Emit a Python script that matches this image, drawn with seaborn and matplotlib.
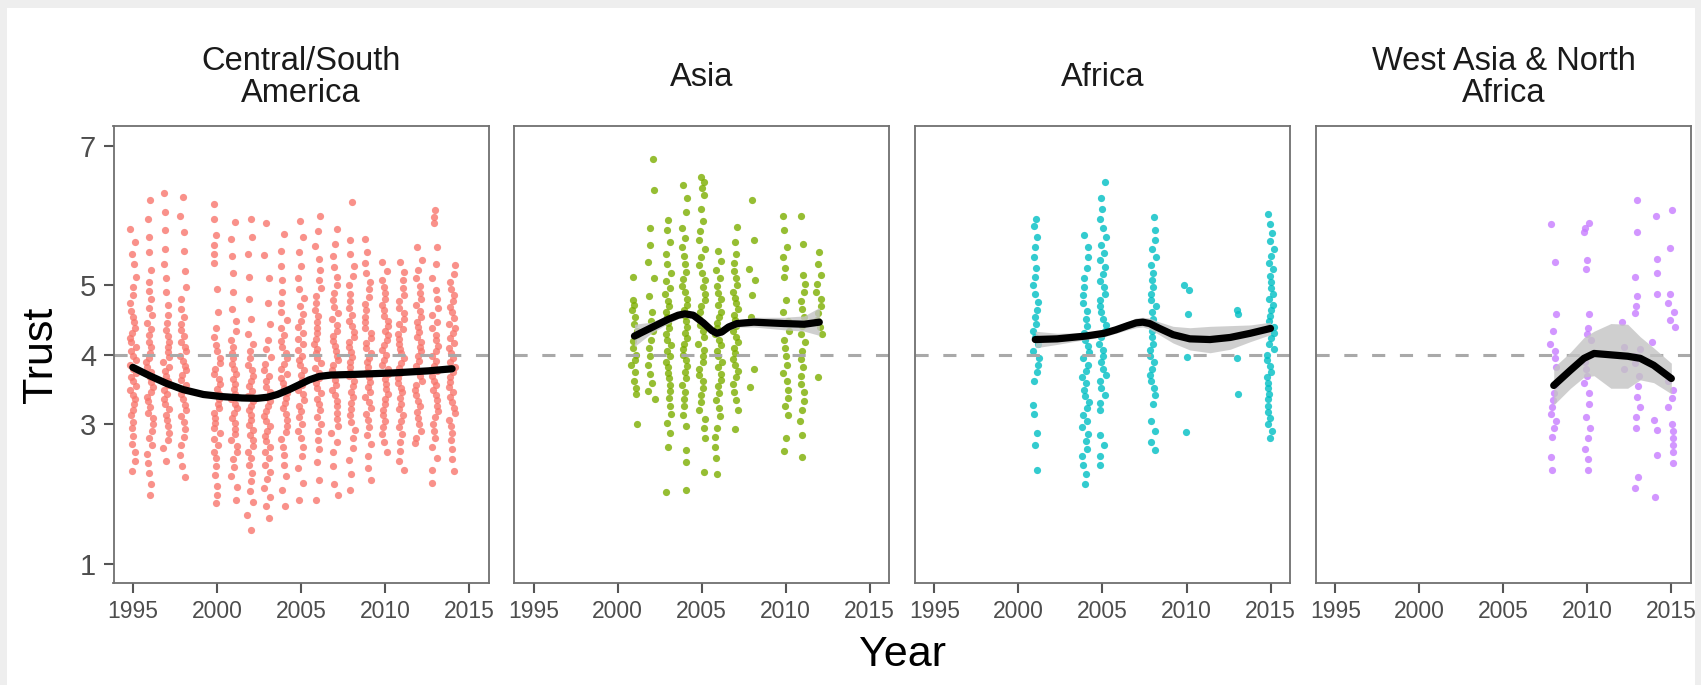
import numpy as np
import pandas as pd
import seaborn as sns
import matplotlib.pyplot as plt
from matplotlib.patches import Rectangle

# Trust scores per survey year
csa_trust = {
    1995: [5.81, 5.62, 5.45, 5.30, 5.12, 4.98, 4.86, 4.74, 4.63, 4.55, 4.47, 4.39, 4.31, 4.24, 4.18, 4.11, 4.05, 3.98, 3.92, 3.86,
           3.80, 3.74, 3.68, 3.62, 3.55, 3.49, 3.42, 3.36, 3.29, 3.21, 3.13, 3.04, 2.95, 2.84, 2.72, 2.60, 2.47, 2.33],
    1996: [6.22, 5.95, 5.70, 5.48, 5.22, 5.05, 4.92, 4.80, 4.68, 4.57, 4.46, 4.37, 4.28, 4.19, 4.11, 4.03, 3.96, 3.89, 3.82, 3.75,
           3.68, 3.61, 3.54, 3.47, 3.40, 3.33, 3.25, 3.17, 3.09, 3.00, 2.91, 2.81, 2.70, 2.58, 2.45, 2.30, 2.14, 1.99],
    1997: [6.32, 6.05, 5.80, 5.52, 5.30, 5.10, 4.90, 4.72, 4.58, 4.46, 4.36, 4.27, 4.19, 4.11, 4.04, 3.97, 3.90, 3.83, 3.77, 3.70,
           3.63, 3.57, 3.50, 3.43, 3.36, 3.29, 3.22, 3.14, 3.06, 2.97, 2.88, 2.78, 2.66, 2.47],
    1998: [6.27, 6.00, 5.76, 5.50, 5.21, 4.98, 4.80, 4.66, 4.55, 4.45, 4.36, 4.27, 4.19, 4.12, 4.05, 3.98, 3.91, 3.84, 3.78, 3.71,
           3.64, 3.57, 3.50, 3.43, 3.36, 3.28, 3.20, 3.12, 3.03, 2.93, 2.82, 2.70, 2.56, 2.40, 2.25],
    2000: [6.17, 5.95, 5.72, 5.58, 5.45, 5.32, 4.95, 4.62, 4.38, 4.25, 4.14, 4.05, 3.96, 3.88, 3.80, 3.72, 3.65, 3.58, 3.51, 3.44,
           3.37, 3.30, 3.23, 3.16, 3.09, 3.02, 2.95, 2.87, 2.79, 2.70, 2.61, 2.51, 2.40, 2.27, 2.12, 1.98, 1.87],
    2001: [5.91, 5.66, 5.42, 5.18, 4.90, 4.66, 4.48, 4.34, 4.22, 4.12, 4.03, 3.95, 3.87, 3.79, 3.72, 3.65, 3.58, 3.51, 3.44, 3.37,
           3.30, 3.23, 3.16, 3.09, 3.02, 2.94, 2.86, 2.78, 2.69, 2.60, 2.50, 2.39, 2.26, 2.10, 1.92],
    2002: [5.96, 5.70, 5.45, 5.12, 4.80, 4.52, 4.30, 4.16, 4.05, 3.95, 3.86, 3.78, 3.70, 3.62, 3.55, 3.48, 3.41, 3.34, 3.27, 3.20,
           3.13, 3.06, 2.99, 2.92, 2.85, 2.77, 2.69, 2.60, 2.51, 2.41, 2.30, 2.18, 2.04, 1.88, 1.70, 1.48],
    2003: [5.90, 5.43, 5.10, 4.75, 4.45, 4.22, 4.08, 3.97, 3.87, 3.78, 3.70, 3.62, 3.54, 3.47, 3.40, 3.33, 3.26, 3.19, 3.12, 3.05,
           2.98, 2.91, 2.84, 2.76, 2.68, 2.60, 2.51, 2.42, 2.32, 2.21, 2.09, 1.96, 1.82, 1.65],
    2004: [5.74, 5.50, 5.28, 5.08, 4.90, 4.75, 4.62, 4.50, 4.39, 4.29, 4.20, 4.11, 4.03, 3.95, 3.87, 3.80, 3.73, 3.66, 3.59, 3.52,
           3.45, 3.38, 3.31, 3.23, 3.15, 3.07, 2.98, 2.89, 2.79, 2.68, 2.56, 2.42, 2.26, 2.05, 1.82],
    2005: [5.93, 5.70, 5.48, 5.28, 5.10, 4.95, 4.82, 4.70, 4.59, 4.49, 4.40, 4.31, 4.23, 4.15, 4.07, 3.99, 3.92, 3.85, 3.78, 3.71,
           3.64, 3.57, 3.50, 3.43, 3.35, 3.27, 3.19, 3.10, 3.01, 2.91, 2.80, 2.68, 2.54, 2.38, 2.16, 1.92],
    2006: [6.00, 5.78, 5.56, 5.38, 5.22, 5.08, 4.96, 4.85, 4.75, 4.65, 4.56, 4.47, 4.39, 4.31, 4.23, 4.16, 4.09, 4.02, 3.95, 3.88,
           3.81, 3.74, 3.67, 3.60, 3.53, 3.45, 3.37, 3.29, 3.20, 3.11, 3.01, 2.90, 2.78, 2.64, 2.46, 2.20, 1.92],
    2007: [5.81, 5.60, 5.42, 5.26, 5.12, 5.00, 4.89, 4.79, 4.69, 4.60, 4.51, 4.43, 4.35, 4.27, 4.20, 4.13, 4.06, 3.99, 3.92, 3.85,
           3.78, 3.71, 3.64, 3.57, 3.50, 3.42, 3.34, 3.26, 3.17, 3.08, 2.98, 2.87, 2.75, 2.60, 2.40, 2.15, 1.99],
    2008: [6.20, 5.65, 5.45, 5.28, 5.13, 5.00, 4.88, 4.77, 4.67, 4.58, 4.49, 4.41, 4.33, 4.25, 4.18, 4.11, 4.04, 3.97, 3.90, 3.83,
           3.76, 3.69, 3.62, 3.55, 3.47, 3.39, 3.31, 3.22, 3.13, 3.03, 2.92, 2.80, 2.66, 2.49, 2.28, 2.06],
    2009: [5.67, 5.48, 5.32, 5.18, 5.05, 4.94, 4.83, 4.73, 4.64, 4.55, 4.47, 4.39, 4.31, 4.24, 4.17, 4.10, 4.03, 3.96, 3.89, 3.82,
           3.75, 3.68, 3.61, 3.54, 3.47, 3.40, 3.32, 3.24, 3.15, 3.06, 2.96, 2.85, 2.72, 2.55, 2.38, 2.20],
    2010: [5.33, 5.20, 5.08, 4.98, 4.89, 4.80, 4.72, 4.64, 4.56, 4.49, 4.42, 4.35, 4.28, 4.21, 4.14, 4.07, 4.00, 3.93, 3.86, 3.79,
           3.72, 3.65, 3.58, 3.51, 3.44, 3.37, 3.29, 3.21, 3.13, 3.05, 2.96, 2.86, 2.75, 2.61],
    2011: [5.33, 5.19, 5.07, 4.96, 4.86, 4.77, 4.68, 4.60, 4.52, 4.44, 4.37, 4.30, 4.23, 4.16, 4.09, 4.02, 3.95, 3.88, 3.81, 3.74,
           3.67, 3.60, 3.53, 3.46, 3.38, 3.30, 3.22, 3.14, 3.05, 2.96, 2.86, 2.75, 2.62, 2.48, 2.35],
    2012: [5.55, 5.36, 5.22, 5.10, 4.99, 4.89, 4.80, 4.71, 4.63, 4.55, 4.47, 4.40, 4.33, 4.26, 4.19, 4.12, 4.05, 3.98, 3.91, 3.84,
           3.77, 3.70, 3.63, 3.56, 3.49, 3.42, 3.34, 3.26, 3.18, 3.09, 3.00, 2.90, 2.81, 2.73],
    2013: [6.08, 5.98, 5.90, 5.55, 5.30, 5.10, 4.93, 4.80, 4.68, 4.57, 4.47, 4.38, 4.29, 4.21, 4.13, 4.05, 3.98, 3.91, 3.84, 3.77,
           3.70, 3.63, 3.56, 3.49, 3.42, 3.35, 3.27, 3.19, 3.10, 3.01, 2.91, 2.80, 2.67, 2.52, 2.35, 2.16],
    2014: [5.29, 5.16, 5.05, 4.95, 4.86, 4.77, 4.69, 4.61, 4.53, 4.45, 4.38, 4.31, 4.24, 4.17, 4.10, 4.03, 3.96, 3.89, 3.82, 3.75,
           3.68, 3.61, 3.54, 3.47, 3.40, 3.32, 3.24, 3.16, 3.07, 2.98, 2.88, 2.77, 2.64, 2.50, 2.33],
}

asia_trust = {
    2001: [5.12, 4.79, 4.72, 4.65, 4.55, 4.45, 4.35, 4.28, 4.20, 4.10, 4.00, 3.92, 3.85, 3.75, 3.62, 3.52, 3.44, 3.01],
    2002: [6.82, 6.37, 5.82, 5.58, 5.34, 5.10, 4.85, 4.62, 4.48, 4.35, 4.22, 4.10, 3.98, 3.85, 3.72, 3.60, 3.48, 3.37],
    2003: [5.94, 5.80, 5.62, 5.45, 5.30, 5.18, 5.06, 4.96, 4.87, 4.78, 4.70, 4.62, 4.54, 4.46, 4.38, 4.30, 4.22, 4.14, 4.06, 3.98,
           3.90, 3.82, 3.74, 3.66, 3.57, 3.48, 3.38, 3.27, 3.15, 3.02, 2.88, 2.68, 2.03],
    2004: [6.44, 6.25, 6.05, 5.82, 5.68, 5.55, 5.42, 5.30, 5.19, 5.09, 4.99, 4.90, 4.81, 4.72, 4.64, 4.56, 4.48, 4.40, 4.32, 4.24,
           4.16, 4.08, 4.00, 3.92, 3.84, 3.75, 3.66, 3.57, 3.47, 3.37, 3.26, 3.14, 2.97, 2.63, 2.46, 2.05],
    2005: [6.56, 6.48, 6.40, 6.30, 6.10, 5.92, 5.78, 5.65, 5.52, 5.40, 5.29, 5.18, 5.08, 4.98, 4.88, 4.79, 4.70, 4.61, 4.52, 4.43,
           4.34, 4.25, 4.16, 4.07, 3.98, 3.89, 3.80, 3.71, 3.62, 3.52, 3.42, 3.32, 3.20, 3.08, 2.95, 2.80, 2.32],
    2006: [5.50, 5.35, 5.22, 5.10, 4.99, 4.89, 4.80, 4.71, 4.62, 4.54, 4.46, 4.38, 4.30, 4.22, 4.14, 4.06, 3.98, 3.90, 3.82, 3.73,
           3.64, 3.55, 3.45, 3.35, 3.24, 3.12, 2.95, 2.82, 2.68, 2.52, 2.29],
    2007: [5.84, 5.62, 5.45, 5.32, 5.20, 5.10, 5.00, 4.91, 4.82, 4.74, 4.66, 4.58, 4.50, 4.42, 4.34, 4.26, 4.18, 4.10, 4.02, 3.94,
           3.86, 3.77, 3.68, 3.58, 3.47, 3.35, 3.21, 2.94],
    2008: [6.22, 5.65, 5.24, 5.07, 4.86, 4.55, 3.80, 3.54],
    2010: [6.00, 5.79, 5.55, 5.40, 5.25, 5.12, 4.79, 4.62, 4.48, 4.35, 4.22, 4.10, 3.98, 3.86, 3.74, 3.62, 3.50, 3.38, 3.26, 3.14,
           2.80, 2.62],
    2011: [6.00, 5.60, 5.15, 5.02, 4.90, 4.78, 4.66, 4.54, 4.42, 4.30, 4.18, 4.06, 3.94, 3.82, 3.70, 3.58, 3.46, 3.34, 3.20, 3.05,
           2.85, 2.53],
    2012: [5.48, 5.30, 5.15, 5.02, 4.90, 4.80, 4.70, 4.60, 4.50, 4.40, 4.30, 3.68],
}

africa_trust = {
    2001: [5.96, 5.85, 5.70, 5.55, 5.40, 5.25, 5.12, 5.00, 4.88, 4.76, 4.65, 4.55, 4.45, 4.35, 4.25, 4.15, 4.05, 3.95, 3.85, 3.75,
           3.62, 3.28, 3.15, 2.87, 2.70, 2.34],
    2004: [5.72, 5.55, 5.40, 5.25, 5.10, 4.98, 4.86, 4.74, 4.63, 4.52, 4.42, 4.32, 4.22, 4.13, 4.04, 3.95, 3.86, 3.77, 3.68, 3.59,
           3.50, 3.41, 3.32, 3.23, 3.14, 3.05, 2.96, 2.86, 2.76, 2.65, 2.54, 2.42, 2.28, 2.15],
    2005: [6.49, 6.25, 6.10, 5.95, 5.82, 5.70, 5.58, 5.47, 5.36, 5.26, 5.16, 5.06, 4.97, 4.88, 4.79, 4.70, 4.61, 4.52, 4.43, 4.34,
           4.25, 4.16, 4.07, 3.98, 3.89, 3.80, 3.71, 3.62, 3.52, 3.42, 3.31, 3.20, 2.85, 2.70, 2.55, 2.41],
    2008: [5.98, 5.80, 5.65, 5.52, 5.40, 5.29, 5.18, 5.08, 4.98, 4.88, 4.79, 4.70, 4.61, 4.52, 4.43, 4.34, 4.25, 4.16, 4.07, 3.98,
           3.89, 3.80, 3.71, 3.62, 3.52, 3.42, 3.30, 3.05, 2.90, 2.75, 2.63],
    2010: [5.00, 4.93, 4.59, 3.97, 2.89],
    2013: [4.64, 4.59, 3.95, 3.44],
    2015: [6.03, 5.88, 5.75, 5.63, 5.52, 5.42, 5.32, 5.23, 5.14, 5.05, 4.96, 4.88, 4.80, 4.72, 4.64, 4.56, 4.48, 4.40, 4.32, 4.24,
           4.16, 4.08, 4.00, 3.92, 3.84, 3.76, 3.68, 3.60, 3.52, 3.44, 3.36, 3.27, 3.18, 3.09, 3.00, 2.90, 2.80],
}

wana_trust = {
    2008: [5.88, 5.34, 4.59, 4.35, 4.16, 4.05, 3.95, 3.83, 3.56, 3.45, 3.35, 3.25, 3.15, 3.05, 2.95, 2.82, 2.53, 2.34],
    2010: [5.89, 5.83, 5.77, 5.36, 5.24, 4.59, 4.38, 4.30, 4.21, 4.00, 3.90, 3.80, 3.70, 3.60, 3.45, 3.30, 3.10, 2.95, 2.80, 2.65,
           2.50, 2.34],
    2012: [4.47, 4.11, 3.80],
    2013: [6.22, 5.77, 5.12, 4.85, 4.70, 4.60, 4.08, 3.98, 3.88, 3.70, 3.55, 3.40, 3.25, 3.10, 2.95, 2.25, 2.08],
    2014: [6.00, 5.38, 5.17, 4.88, 4.19, 3.06, 2.92, 2.56, 1.96],
    2015: [6.08, 5.53, 4.88, 4.75, 4.62, 4.50, 4.40, 3.62, 3.50, 3.38, 3.25, 3.00, 2.90, 2.80, 2.70, 2.60, 2.44],
}

# smoothed trend and its band
csa_fit_year = [1995.0, 1996.0, 1997.0, 1998.0, 1999.2, 2000.3, 2001.5, 2002.4, 2003.0, 2003.6, 2004.3, 2004.9, 2005.5, 2006.1,
                2006.8, 2008.3, 2010.5, 2012.6, 2014.0]
csa_fit = [3.82, 3.70, 3.59, 3.50, 3.43, 3.40, 3.38, 3.375, 3.39, 3.43, 3.50, 3.57, 3.64, 3.69, 3.71, 3.72, 3.74, 3.77, 3.80]
csa_lo = [3.76, 3.66, 3.56, 3.47, 3.40, 3.37, 3.35, 3.345, 3.36, 3.40, 3.47, 3.54, 3.61, 3.66, 3.68, 3.70, 3.72, 3.74, 3.75]
csa_hi = [3.88, 3.74, 3.62, 3.53, 3.46, 3.43, 3.41, 3.405, 3.42, 3.46, 3.53, 3.60, 3.67, 3.72, 3.74, 3.74, 3.76, 3.80, 3.85]

asia_fit_year = [2001.0, 2002.0, 2003.0, 2003.6, 2004.0, 2004.5, 2005.1, 2005.6, 2005.9, 2006.2, 2006.6, 2007.1, 2008.1, 2009.9,
                 2011.1, 2012.0]
asia_fit = [4.27, 4.39, 4.51, 4.57, 4.59, 4.57, 4.46, 4.35, 4.31, 4.33, 4.40, 4.45, 4.47, 4.45, 4.44, 4.47]
asia_lo = [4.12, 4.31, 4.45, 4.52, 4.54, 4.52, 4.41, 4.30, 4.26, 4.28, 4.35, 4.40, 4.40, 4.36, 4.34, 4.28]
asia_hi = [4.44, 4.47, 4.57, 4.62, 4.64, 4.62, 4.51, 4.40, 4.36, 4.38, 4.45, 4.50, 4.54, 4.54, 4.56, 4.68]

africa_fit_year = [2001.0, 2002.3, 2004.0, 2005.1, 2005.8, 2006.5, 2007.0, 2007.4, 2007.8, 2008.3, 2009.2, 2010.2, 2011.4, 2012.6,
                   2013.8, 2015.0]
africa_fit = [4.22, 4.23, 4.27, 4.31, 4.36, 4.42, 4.46, 4.47, 4.45, 4.39, 4.29, 4.23, 4.22, 4.25, 4.31, 4.38]
africa_lo = [4.10, 4.15, 4.22, 4.26, 4.31, 4.36, 4.39, 4.40, 4.37, 4.30, 4.17, 4.07, 4.03, 4.08, 4.19, 4.29]
africa_hi = [4.34, 4.31, 4.32, 4.36, 4.41, 4.48, 4.53, 4.54, 4.53, 4.48, 4.41, 4.39, 4.41, 4.42, 4.43, 4.47]

wana_fit_year = [2008.0, 2009.0, 2009.8, 2010.4, 2011.4, 2012.4, 2013.15, 2013.95, 2015.0]
wana_fit = [3.56, 3.78, 3.95, 4.02, 4.00, 3.98, 3.95, 3.85, 3.66]
wana_lo = [3.28, 3.52, 3.68, 3.70, 3.52, 3.52, 3.64, 3.60, 3.44]
wana_hi = [3.82, 4.04, 4.25, 4.34, 4.45, 4.44, 4.26, 4.10, 3.88]

regions = ["Central/South\nAmerica", "Asia", "Africa", "West Asia & North\nAfrica"]
colors = ["#F8766D", "#7CAE00", "#00BFC4", "#C77CFF"]

points = []
for region, table in zip(regions, [csa_trust, asia_trust, africa_trust, wana_trust]):
    for yr, vals in table.items():
        for v in vals:
            points.append((region, yr, v))
df = pd.DataFrame(points, columns=["region", "year", "trust"])

fits = [
    (csa_fit_year, csa_fit, csa_lo, csa_hi),
    (asia_fit_year, asia_fit, asia_lo, asia_hi),
    (africa_fit_year, africa_fit, africa_lo, africa_hi),
    (wana_fit_year, wana_fit, wana_lo, wana_hi),
]

sns.set_style("white")
plt.rcParams["font.family"] = ["Liberation Sans", "DejaVu Sans"]
np.random.seed(7)  # only for the strip jitter

W, H = 1701, 685
fig, axes = plt.subplots(1, 4, figsize=(W / 100, H / 100), dpi=100, sharey=True)
fig.patch.set_facecolor("#eeeeee")
fig.add_artist(Rectangle((7 / W, 0), (1695 - 7) / W, (H - 8) / H, transform=fig.transFigure,
                         facecolor="white", edgecolor="none", zorder=-5))
fig.subplots_adjust(left=113.5 / W, right=1691 / W, bottom=(H - 583) / H, top=(H - 126) / H, wspace=0.0688)

for i, (ax, region, col, fit) in enumerate(zip(axes, regions, colors, fits)):
    sub = df[df["region"] == region]
    sns.stripplot(data=sub, x="year", y="trust", native_scale=True, jitter=0.2,
                  color=col, size=5.2, alpha=0.8, linewidth=0, ax=ax, zorder=1)
    ax.axhline(4, color="#a9a9a9", lw=2.2, dashes=(4.3, 4.8), zorder=2)
    fx, fy, lo, hi = fit
    ax.fill_between(fx, lo, hi, color="#c4c4c4", alpha=0.8, lw=0, zorder=2.5)
    sns.lineplot(x=fx, y=fy, color="black", lw=5.2, errorbar=None, ax=ax, zorder=3)

    ax.set_xlim(1993.85, 2016.17)
    ax.set_ylim(0.72, 7.29)
    ax.set_xticks([1995, 2000, 2005, 2010, 2015])
    ax.set_yticks([1, 3, 4, 5, 7])
    ax.set_xlabel("")
    ax.set_ylabel("")
    for s in ax.spines.values():
        s.set_visible(True)
        s.set_color("#707070")
        s.set_linewidth(1.3)
    ax.tick_params(axis="x", direction="out", length=7.5, width=1.5, color="#555555",
                   labelsize=16.5, labelcolor="#4d4d4d", pad=5, bottom=True)
    if i == 0:
        ax.tick_params(axis="y", direction="out", length=7.5, width=1.5, color="#555555",
                       labelsize=21, labelcolor="#4d4d4d", pad=5, left=True)
    else:
        ax.tick_params(axis="y", left=False, labelleft=False)

    # facet strip label
    pos = ax.get_position()
    fig.text((pos.x0 + pos.x1) / 2, 1 - 77.5 / H, region, ha="center", va="center",
             fontsize=23.5, color="#1a1a1a", linespacing=1.05)

fig.text(41 / W, 1 - 354.5 / H, "Trust", rotation=90, ha="center", va="center", fontsize=31, color="black")
fig.text(902 / W, 1 - 655 / H, "Year", ha="center", va="center", fontsize=31, color="black")

plt.savefig("out.png", dpi=100, facecolor=fig.get_facecolor())
